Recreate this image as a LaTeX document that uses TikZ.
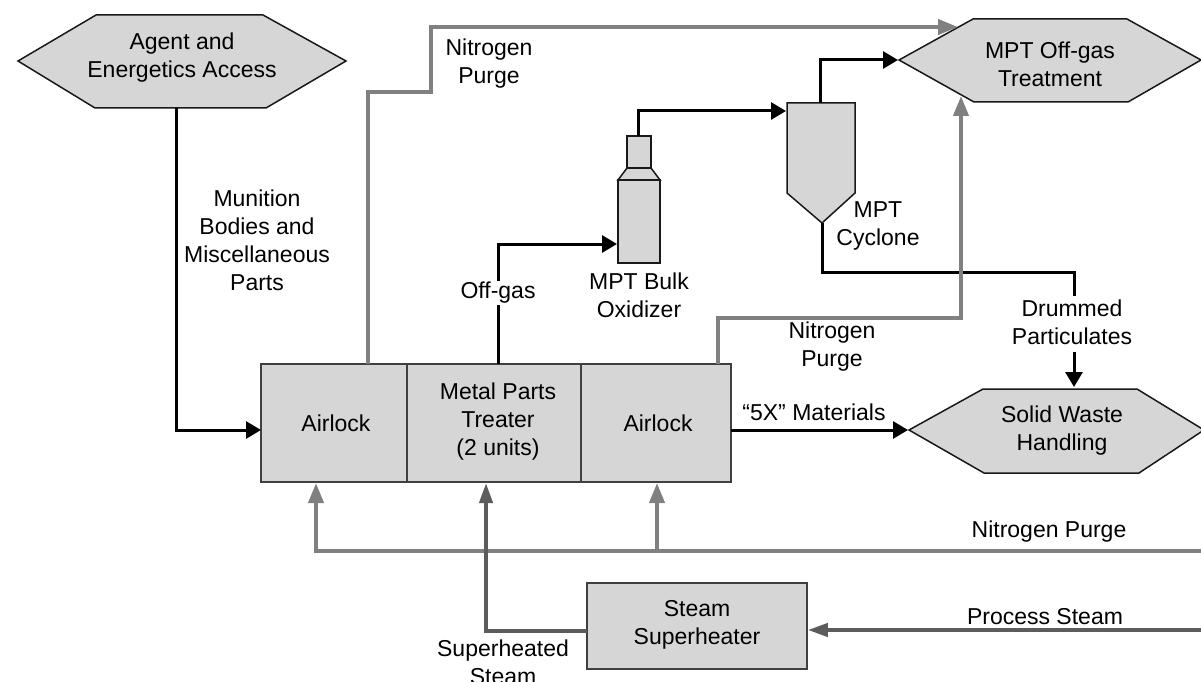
\documentclass[tikz,border=0pt]{standalone}
\usepackage{fontspec}
\setmainfont{Liberation Sans}
\usetikzlibrary{arrows.meta}
\definecolor{boxfill}{HTML}{D6D6D6}
\definecolor{purgegray}{HTML}{808080}
\definecolor{steamgray}{HTML}{5C5C5C}
\tikzset{
  lbl/.style={inner sep=0pt,align=center,font=\fontsize{23}{28}\selectfont,text=black},
  gaplbl/.style={lbl,fill=white,inner xsep=2pt,inner ysep=1pt},
  shapeline/.style={draw=black!90,line width=1.5pt,fill=boxfill,line join=miter},
  boxnode/.style={draw=black!75,line width=1.6pt,fill=boxfill,inner sep=0pt,minimum height=118pt},
  flow/.style={draw=black,line width=3pt,-{Triangle[length=15pt,width=17pt]}},
  flowplain/.style={draw=black,line width=3pt},
  purge/.style={draw=purgegray,line width=4pt,-{Triangle[length=20pt,width=15pt]}},
  steam/.style={draw=steamgray,line width=4pt,-{Triangle[length=20pt,width=13pt]}},
}
\begin{document}
\begin{tikzpicture}[x=1pt,y=-1pt]
\useasboundingbox (0,0) rectangle (1201,682);
\clip (0,0) rectangle (1201,682);
% named connection points
\coordinate (agentout) at (176,108);
\coordinate (al1in) at (261,430);
\coordinate (al1purge) at (368,364);
\coordinate (al1low) at (316,483);
\coordinate (turnA) at (368,92);
\coordinate (turnB) at (431,92);
\coordinate (turnC) at (431,27);
\coordinate (otTop) at (958,27);
\coordinate (otLeft) at (898,60);
\coordinate (otLow) at (961,96);
\coordinate (mptTop) at (498,364);
\coordinate (mptLow) at (486,483);
\coordinate (oxIn) at (617,244);
\coordinate (oxOut) at (638,136);
\coordinate (cyIn) at (786,111);
\coordinate (cyOut) at (820,103);
\coordinate (cyTip) at (822,223);
\coordinate (dRight) at (1074,272);
\coordinate (dTop) at (1074,296);
\coordinate (dLow) at (1074,352);
\coordinate (swTop) at (1074,387);
\coordinate (swLeft) at (908,430);
\coordinate (al2purge) at (718,364);
\coordinate (al2turn) at (718,318);
\coordinate (al2turnB) at (961,318);
\coordinate (al2out) at (731,430);
\coordinate (al2low) at (657,483);
\coordinate (n2edge) at (1201,551);
\coordinate (n2left) at (316,551);
\coordinate (n2mid) at (657,551);
\coordinate (psEdge) at (1201,630);
\coordinate (shOut) at (587,631);
\coordinate (shTurn) at (486,631);
% hexagons
\path[shapeline] (18,61) -- (96,15) -- (263,15) -- (346,61) -- (266,108) -- (95,108) -- cycle;
\path[shapeline] (899,60) -- (973,19) -- (1127,19) -- (1201,60) -- (1128,102) -- (974,102) -- cycle;
\path[shapeline] (909,430) -- (983,389) -- (1137,389) -- (1204,430) -- (1139,473) -- (984,473) -- cycle;
% oxidizer
\path[shapeline] (627,136) rectangle (651,168);
\path[shapeline] (627,168) -- (651,168) -- (660,180) -- (618,180) -- cycle;
\path[shapeline] (618,180) rectangle (660,263);
% cyclone
\path[shapeline] (787,103) -- (855,103) -- (855,193) -- (822,223) -- (787,193) -- cycle;
% boxes
\node[boxnode,minimum width=146pt] (al1) at (334,423) {};
\node[boxnode,minimum width=174pt] (mpt) at (494,423) {};
\node[boxnode,minimum width=150pt] (al2) at (656,423) {};
\node[draw=black!75,line width=1.6pt,fill=boxfill,minimum width=220pt,minimum height=86pt,inner sep=0pt] (sh) at (697,626) {};
% connectors
\draw[flow] (agentout) |- (al1in);
\draw[flow] (mptTop) |- (oxIn);
\draw[flow] (oxOut) |- (cyIn);
\draw[flow] (cyOut) |- (otLeft);
\draw[flowplain] (cyTip) |- (dRight) -- (dTop);
\draw[flow] (dLow) -- (swTop);
\draw[flow] (al2out) -- (swLeft);
\draw[purge] (al1purge) -- (turnA) -- (turnB) -- (turnC) -- (otTop);
\draw[purge] (al2purge) -- (al2turn) -- (al2turnB) -- (otLow);
\draw[purge] (n2edge) -- (n2left) -- (al1low);
\draw[purge] (n2mid) -- (al2low);
\draw[steam] (shOut) -- (shTurn) -- (mptLow);
\draw[steam] (psEdge) -- (sh.east |- psEdge);
% labels
\node[lbl] (agent) at (182,58) {Agent and\\Energetics Access};
\node[lbl] (munition) at (257,240) {Munition\\Bodies and\\Miscellaneous\\Parts};
\node[lbl] (np1) at (489,64) {Nitrogen\\Purge};
\node[gaplbl] (offgas) at (498,293) {Off-gas};
\node[lbl] (oxlbl) at (639,295) {MPT Bulk\\Oxidizer};
\node[lbl] (cylbl) at (878,226) {MPT\\Cyclone};
\node[lbl] (ot) at (1050,64) {MPT Off-gas\\Treatment};
\node[lbl] (np2) at (832,347) {Nitrogen\\Purge};
\node[lbl] (drum) at (1072,322) {Drummed\\Particulates};
\node[lbl] (fivex) at (814,412) {“5X” Materials};
\node[lbl] (sw) at (1062,431) {Solid Waste\\Handling};
\node[lbl] (al1t) at (336,423) {Airlock};
\node[lbl] (mptt) at (498,422) {Metal Parts\\Treater\\(2 units)};
\node[lbl] (al2t) at (658,423) {Airlock};
\node[lbl] (np3) at (1049,532) {Nitrogen Purge};
\node[lbl] (ps) at (1045,617) {Process Steam};
\node[lbl] (sht) at (697,625) {Steam\\Superheater};
\node[lbl] (shd) at (503,662) {Superheated\\Steam};
\end{tikzpicture}
\end{document}
